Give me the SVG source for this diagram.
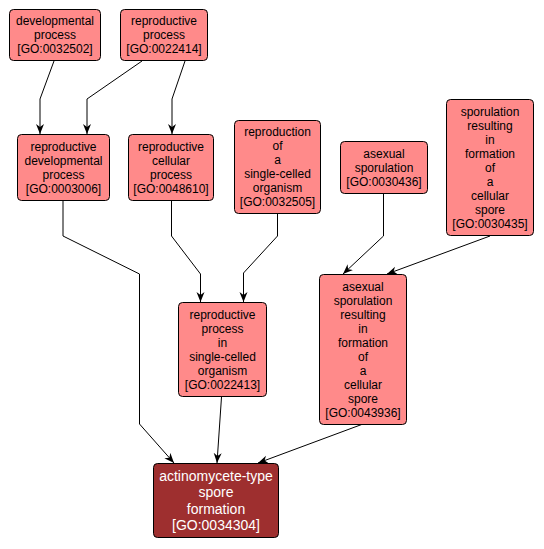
<svg xmlns="http://www.w3.org/2000/svg" width="544" height="549" viewBox="0 0 544 549">
<style>
.node rect{fill:#FF8A8A;stroke:#000;stroke-width:1}
.node text{font-family:"Liberation Sans",Arial,sans-serif;font-size:12px;fill:#000;text-anchor:middle}
#n10 rect{fill:#9E2F2F}
#n10 text{font-size:14px;fill:#fff}
.edges path{fill:none;stroke:#000;stroke-width:1}
</style>
<defs>
<marker id="arr" markerUnits="userSpaceOnUse" markerWidth="12" markerHeight="10" refX="10" refY="4" orient="auto">
<path d="M0,0 L10,4 L0,8 L3,4 z" fill="#000"/>
</marker>
</defs>
<rect width="544" height="549" fill="#fff"/>
<g class="edges" marker-end="url(#arr)">
<path d="M54,61 L40,99 L40,134" marker-end="url(#arr)"/>
<path d="M142,61 L87,99 L87,134" marker-end="url(#arr)"/>
<path d="M185,61 L172,99 L172,134" marker-end="url(#arr)"/>
<path d="M63,201 L63,236 L139.5,274 L139.5,424 L174,463" marker-end="url(#arr)"/>
<path d="M171.5,201 L171.5,236 L200.5,274 L200.5,302" marker-end="url(#arr)"/>
<path d="M277.5,214 L277.5,236 L243.5,273 L243.5,302" marker-end="url(#arr)"/>
<path d="M383.5,193 L383.5,236 L343,274" marker-end="url(#arr)"/>
<path d="M490,236 L387,274" marker-end="url(#arr)"/>
<path d="M221.5,397 L217,463" marker-end="url(#arr)"/>
<path d="M363,424 L258,463" marker-end="url(#arr)"/>
</g>
<g id="n1" class="node"><rect x="9.5" y="9.5" width="91" height="51" rx="4"/>
<text x="55" y="25">developmental</text><text x="55" y="39">process</text><text x="55" y="53">[GO:0032502]</text></g>
<g id="n2" class="node"><rect x="120.5" y="9.5" width="87" height="51" rx="4"/>
<text x="164" y="25">reproductive</text><text x="164" y="39">process</text><text x="164" y="53">[GO:0022414]</text></g>
<g id="n3" class="node"><rect x="17.5" y="134.5" width="92" height="66" rx="4"/>
<text x="63.5" y="150.5">reproductive</text><text x="63.5" y="164.5">developmental</text><text x="63.5" y="178.5">process</text><text x="63.5" y="192.5">[GO:0003006]</text></g>
<g id="n4" class="node"><rect x="128.5" y="134.5" width="85" height="66" rx="4"/>
<text x="171" y="150.5">reproductive</text><text x="171" y="164.5">cellular</text><text x="171" y="178.5">process</text><text x="171" y="192.5">[GO:0048610]</text></g>
<g id="n5" class="node"><rect x="234.5" y="120.5" width="86" height="93" rx="4"/>
<text x="277.5" y="136">reproduction</text><text x="277.5" y="150">of</text><text x="277.5" y="164">a</text><text x="277.5" y="178">single-celled</text><text x="277.5" y="192">organism</text><text x="277.5" y="206">[GO:0032505]</text></g>
<g id="n6" class="node"><rect x="340.5" y="141.5" width="87" height="52" rx="4"/>
<text x="384" y="157.5">asexual</text><text x="384" y="171.5">sporulation</text><text x="384" y="185.5">[GO:0030436]</text></g>
<g id="n7" class="node"><rect x="446.5" y="99.5" width="87" height="136" rx="4"/>
<text x="490" y="115.5">sporulation</text><text x="490" y="129.5">resulting</text><text x="490" y="143.5">in</text><text x="490" y="157.5">formation</text><text x="490" y="171.5">of</text><text x="490" y="185.5">a</text><text x="490" y="199.5">cellular</text><text x="490" y="213.5">spore</text><text x="490" y="227.5">[GO:0030435]</text></g>
<g id="n8" class="node"><rect x="178.5" y="302.5" width="88" height="94" rx="4"/>
<text x="222.5" y="318.5">reproductive</text><text x="222.5" y="332.5">process</text><text x="222.5" y="346.5">in</text><text x="222.5" y="360.5">single-celled</text><text x="222.5" y="374.5">organism</text><text x="222.5" y="388.5">[GO:0022413]</text></g>
<g id="n9" class="node"><rect x="319.5" y="274.5" width="87" height="150" rx="4"/>
<text x="363" y="290.5">asexual</text><text x="363" y="304.5">sporulation</text><text x="363" y="318.5">resulting</text><text x="363" y="332.5">in</text><text x="363" y="346.5">formation</text><text x="363" y="360.5">of</text><text x="363" y="374.5">a</text><text x="363" y="388.5">cellular</text><text x="363" y="402.5">spore</text><text x="363" y="416.5">[GO:0043936]</text></g>
<g id="n10" class="node"><rect x="153.5" y="463.5" width="125" height="74" rx="4"/>
<text x="216" y="481">actinomycete-type</text><text x="216" y="497.3">spore</text><text x="216" y="513.7">formation</text><text x="216" y="530.1">[GO:0034304]</text></g>
</svg>
